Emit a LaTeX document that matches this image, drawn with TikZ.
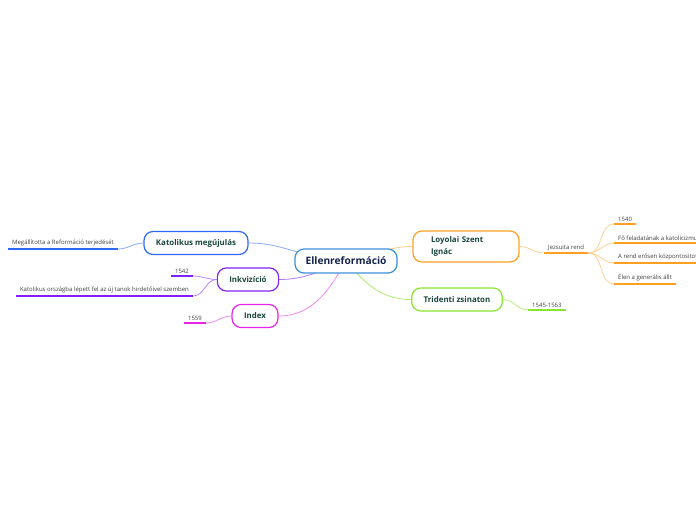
\documentclass[tikz,border=0pt]{standalone}
\usepackage{fontspec}
\setmainfont{Open Sans}
\usepackage{tikz}
\usetikzlibrary{positioning, backgrounds}
\definecolor{rootblue}{RGB}{60,145,215}
\definecolor{katblue}{RGB}{45,105,245}
\definecolor{inkpurple}{RGB}{125,35,250}
\definecolor{idxpink}{RGB}{230,35,230}
\definecolor{loyorange}{RGB}{255,160,35}
\definecolor{trigreen}{RGB}{135,230,45}
\definecolor{topictext}{RGB}{25,70,60}
\definecolor{roottext}{RGB}{20,35,75}

\begin{document}
\begin{tikzpicture}[x=1pt, y=-1pt,
    root/.style={rectangle, rounded corners=9pt, draw=rootblue, line width=1.2pt, fill=white,
                 minimum width=102pt, minimum height=24pt, text=roottext,
                 font=\bfseries\fontsize{10.2}{12}\selectfont},
    topic/.style={rectangle, rounded corners=9pt, line width=1.2pt, fill=white,
                  minimum height=23pt, inner xsep=12pt, text=topictext,
                  font=\bfseries\fontsize{7.9}{10}\selectfont},
    leaf/.style={inner xsep=4pt, inner ysep=2.5pt, text=black!75,
                 font=\fontsize{6.0}{7.5}\selectfont},
    ul/.style={line width=2pt},
    link/.style={line width=0.8pt}]

\useasboundingbox (0,0) rectangle (696,520);
\clip (0,0) rectangle (696,520);

% Central topic
\node (ref) [root] at (346,261) {Ellenreformáció};

% Main topics
\node (kat) [topic, draw=katblue]   at (196,243) {Katolikus megújulás};
\node (ink) [topic, draw=inkpurple] at (248,279.5) {Inkvizíció};
\node (idx) [topic, draw=idxpink]   at (255,316) {Index};
\node (loy) [topic, draw=loyorange, minimum height=31pt, inner xsep=18pt,
             text width=70pt, align=left, font=\bfseries\fontsize{7.9}{11.5}\selectfont]
            at (466,246.5) {Loyolai Szent\\Ignác};
\node (tri) [topic, draw=trigreen]  at (457,299.5) {Tridenti zsinaton};

% Leaves, left side
\node (megall) [leaf, anchor=south east] at (118,249) {Megállította a Reformáció terjedését};
\node (y1542)  [leaf, anchor=south east] at (193,276) {1542};
\node (orszag) [leaf, anchor=south east] at (193,296) {Katolikus országba lépett fel az új tanok hirdetőivel szemben};
\node (y1559)  [leaf, anchor=south east] at (206,323) {1559};

% Leaves, right side
\node (jezs)  [leaf, anchor=south west] at (544,253) {Jezsuita rend};
\node (y1540) [leaf, anchor=south west] at (614,224) {1540};
\node (fofel) [leaf, anchor=south west] at (614,243) {Fő feladatának a katolicizmus};
\node (rend)  [leaf, anchor=south west] at (614,263) {A rend erősen központositott};
\node (elen)  [leaf, anchor=south west] at (614,284) {Élen a generális állt};
\node (y1545) [leaf, anchor=south west] at (528,310) {1545-1563};

% Underlines
\draw [ul, katblue]   (megall.south west) -- (megall.south east);
\draw [ul, inkpurple] (y1542.south west)  -- (y1542.south east);
\draw [ul, inkpurple] (orszag.south west) -- (orszag.south east);
\draw [ul, idxpink]   (y1559.south west)  -- (y1559.south east);
\draw [ul, loyorange] (jezs.south west)   -- (jezs.south east);
\draw [ul, loyorange] (y1540.south west)  -- (y1540.south east);
\draw [ul, loyorange] (fofel.south west)  -- (fofel.south east);
\draw [ul, loyorange] (rend.south west)   -- (rend.south east);
\draw [ul, loyorange] (elen.south west)   -- (elen.south east);
\draw [ul, trigreen]  (y1545.south west)  -- (y1545.south east);

% Connectors
\begin{scope}[on background layer]
\draw [link, katblue!55]   (ref.center) to[out=180, in=0] (kat.east);
\draw [link, inkpurple!60] (ref.center) to[out=200, in=0] (ink.east);
\draw [link, idxpink!55]   (ref.center) to[out=240, in=0] (idx.east);
\draw [link, loyorange!55] (ref.center) to[out=10, in=180] (loy.west);
\draw [link, trigreen!70]  (ref.center) to[out=-50, in=180] (tri.west);
\end{scope}
\draw [link, katblue!55]   (kat.west) to[out=180, in=0] (megall.south east);
\draw [link, inkpurple!55] (ink.west) to[out=180, in=0] (y1542.south east);
\draw [link, inkpurple!55] (ink.west) to[out=180, in=0] (orszag.south east);
\draw [link, idxpink!55]   (idx.west) to[out=180, in=0] (y1559.south east);
\draw [link, loyorange!50] (loy.east) to[out=0, in=180] (jezs.south west);
\draw [link, loyorange!50] (jezs.south east) to[out=0, in=180] (y1540.south west);
\draw [link, loyorange!50] (jezs.south east) to[out=0, in=180] (fofel.south west);
\draw [link, loyorange!50] (jezs.south east) to[out=0, in=180] (rend.south west);
\draw [link, loyorange!50] (jezs.south east) to[out=0, in=180] (elen.south west);
\draw [link, trigreen!60]  (tri.east) to[out=0, in=180] (y1545.south west);
\end{tikzpicture}
\end{document}
